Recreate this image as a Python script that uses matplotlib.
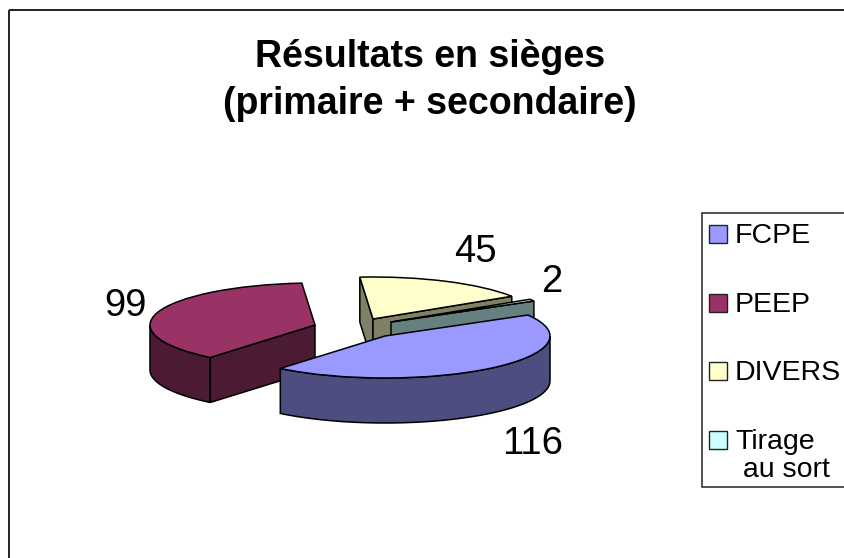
import numpy as np
import matplotlib
matplotlib.use("Agg")
import matplotlib.pyplot as plt
from matplotlib.patches import Polygon, Rectangle
from matplotlib.transforms import Affine2D

plt.rcParams['font.family'] = ['Liberation Sans', 'DejaVu Sans']

categories = ['FCPE', 'PEEP', 'DIVERS', 'Tirage\n au sort']
values = [116, 99, 45, 2]
colors = ['#9999FF', '#993366', '#FFFFCC', '#CCFFFF']
side_colors = ['#4D4D80', '#4D1A33', '#808066', '#668080']

# slice centres in pixels (exploded pie), ellipse radii, extrusion depth
centers = [(385, 336), (315, 325), (373, 319), (391, 322)]
label_pos = [(533, 444), (125, 306), (475, 252), (552, 282)]
A, B, DEPTH = 165, 42, 45
START = 30

fig = plt.figure(figsize=(8.44, 5.58), dpi=100)
ax = fig.add_axes([0, 0, 1, 1])

wedges, _ = ax.pie(values, startangle=START, counterclock=False, colors=colors,
                   wedgeprops={'edgecolor': 'k', 'linewidth': 1.1})
ax.set_aspect('auto')
ax.set_xlim(0, 844)
ax.set_ylim(558, 0)
ax.axis('off')


def pt(c, t):
    t = np.radians(t)
    return c[0] + A*np.cos(t), c[1] - B*np.sin(t)


def side(c, t1, t2, col, z):
    # extruded wall along the rim, from angle t1 down to t2
    ts = np.linspace(t1, t2, 60)
    x, y = pt(c, ts)
    xy = np.r_[np.c_[x, y], np.c_[x, y + DEPTH][::-1]]
    ax.add_patch(Polygon(xy, closed=True, fc=col, ec='k', lw=1.1, zorder=z))


def flat(c, t, col, z):
    # extruded cut face from the apex to the rim
    x, y = pt(c, t)
    xy = [c, (x, y), (x, y + DEPTH), (c[0], c[1] + DEPTH)]
    ax.add_patch(Polygon(xy, closed=True, fc=col, ec='k', lw=1.1, zorder=z))


# angles of the slices, walking clockwise from START
ends = START - np.cumsum(values) / np.sum(values) * 360
begins = np.r_[START, ends[:-1]]

# drawn back to front: DIVERS, Tirage, PEEP, FCPE
for z, i in enumerate([2, 3, 1, 0]):
    c = centers[i]
    t1, t2 = begins[i], ends[i]
    base = 10*z + 2
    if i == 0:
        side(c, 0, t2, side_colors[i], base)
    elif i == 1:
        side(c, t1, -180, side_colors[i], base)
        flat(c, t1, side_colors[i], base + 1)
    elif i == 2:
        flat(c, t1 + 360, side_colors[i], base)
        flat(c, t2 + 360, side_colors[i], base + 1)
    else:
        flat(c, t2 + 360, side_colors[i], base)
    w = wedges[i]
    w.set_transform(Affine2D().scale(A, -B).translate(*c) + ax.transData)
    w.set_zorder(base + 5)

# outer frame of the chart
ax.add_patch(Rectangle((9, 10), 850, 560, fc='none', ec='#222222', lw=1.4, zorder=50))

ax.text(430, 80.5, 'Résultats en sièges\n(primaire + secondaire)', ha='center', va='center',
        fontsize=27, fontweight='bold', linespacing=1.38, zorder=60)

for v, p in zip(values, label_pos):
    ax.text(p[0], p[1], str(v), ha='center', va='center', fontsize=27.5, zorder=60)

# legend
ax.add_patch(Rectangle((702, 213), 160, 274, fc='w', ec='#222222', lw=1.1, zorder=55))
leg_y = [234, 303, 371, 440]
for name, col, y in zip(categories, colors, leg_y):
    ax.add_patch(Rectangle((709, y - 9), 18, 18, fc=col, ec='#222222', lw=1.0, zorder=60))
    ax.text(735, y - 11, name, ha='left', va='top',
            fontsize=20.5, linespacing=1.12, zorder=60)

fig.savefig('out.png', dpi=100)
